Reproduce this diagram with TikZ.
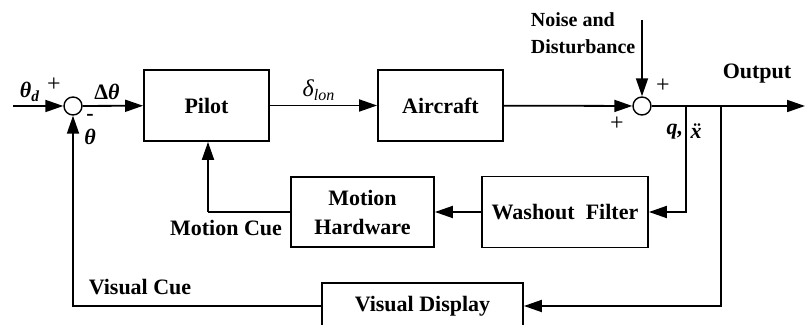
\documentclass[tikz,border=0pt]{standalone}
\usepackage{fontspec}
\setmainfont{Liberation Serif}
\usepackage{tikz}
\usetikzlibrary{arrows.meta,positioning,calc}

\begin{document}
\begin{tikzpicture}[
    x=0.5pt, y=-0.5pt,
    line width=0.9pt,
    arr/.style={-{Triangle[length=9pt,width=6pt]}},
    blk/.style={rectangle, draw, line width=0.9pt, inner sep=0pt,
                font=\fontsize{11}{14.5}\selectfont\bfseries, align=center},
    sumj/.style={circle, draw, line width=0.7pt, minimum size=9pt, inner sep=0pt},
    lbl/.style={font=\fontsize{11}{14}\selectfont\bfseries, inner sep=0pt},
    sgn/.style={font=\fontsize{12}{12}\selectfont, inner sep=0pt}
  ]
  \useasboundingbox (0,0) rectangle (805,325);

  % blocks
  \node[blk, minimum width=62.5pt, minimum height=35.5pt] (pilot) at (206.5,105.5) {Pilot};
  \node[blk, minimum width=62.5pt, minimum height=35.5pt] (ac)    at (440.5,105.5) {Aircraft};
  \node[blk, minimum width=83pt,   minimum height=35.5pt] (wf)    at (565,212)     {Washout~~Filter};
  \node[blk, minimum width=71.5pt, minimum height=35pt]   (mh)    at (362.5,212)   {Motion\\Hardware};
  \node[blk, minimum width=100.5pt, minimum height=23pt]  (vd)    at (422.5,306)   {Visual Display};

  % summing junctions
  \node[sumj] (s1) at (73,106) {};
  \node[sumj] (s2) at (642,106) {};

  % free ends and branch points
  \coordinate (in)  at (13,106);
  \coordinate (nz)  at (642,20);
  \coordinate (b1)  at (686,106);
  \coordinate (b2)  at (721,106);
  \coordinate (out) at (805,106);
  \coordinate (mc)  at (208,212);

  % connectors
  \draw[arr] (in) -- (s1);
  \draw[arr] (s1) -- (pilot);
  \draw[arr] (pilot) -- (ac);
  \draw[arr] (ac) -- (s2);
  \draw[arr] (nz) -- (s2);
  \draw[arr] (s2) -- (out);
  \draw[arr] (b1) |- (wf.east);
  \draw[arr] (wf.west) -- (mh.east);
  \draw (mh.west) -- (mc);
  \draw[arr] (mc) -- (pilot.south -| mc);
  \draw[arr] (b2) |- (vd.east);
  \draw[arr] (vd.west) -| (s1.south);

  % labels
  \node[lbl] at (30,92) {\itshape θ\textsubscript{d}};
  \node[sgn] at (54,85) {+};
  \node[lbl] at (107,92) {Δ\itshape θ};
  \node[lbl] at (90,117) {-};
  \node[lbl] at (90,137) {\itshape θ};
  \node[inner sep=0pt, font=\fontsize{12}{14}\selectfont] at (319,90) {\itshape δ\textsubscript{lon}};
  \node[sgn] at (663,86) {+};
  \node[sgn] at (617,124) {+};
  \node[lbl, font=\fontsize{10}{13.5}\selectfont\bfseries, anchor=west, align=left] at (530,33) {Noise and\\Disturbance};
  \node[lbl] at (757,74) {Output};
  \node[lbl, anchor=east] at (684,132) {\itshape q,};
  \node[lbl] at (696,131) {\itshape ẍ};
  \node[lbl] at (226,228) {Motion Cue};
  \node[lbl] at (140,287) {Visual Cue};
\end{tikzpicture}
\end{document}
